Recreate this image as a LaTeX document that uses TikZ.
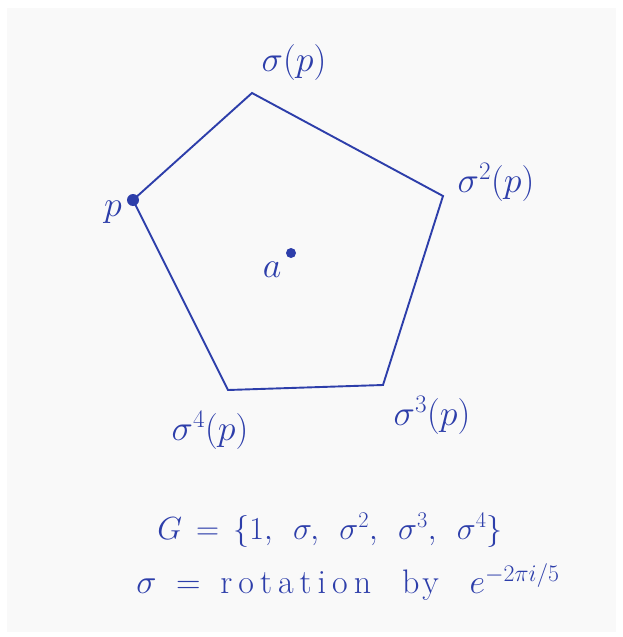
\RequirePackage{fix-cm}
\documentclass[tikz,border=0pt]{standalone}
\usepackage{amsmath}
\definecolor{ink}{RGB}{45,62,170}
\definecolor{paper}{RGB}{249,249,249}
\newcommand{\spacedword}[1]{\text{#1}}
\tikzset{
  edge/.style={ink, line width=1.9pt, line cap=round},
  vlabel/.style={ink, font=\fontsize{36}{40}\selectfont, inner sep=0pt},
  caption/.style={ink, font=\fontsize{32}{36}\selectfont, inner sep=0pt},
  dotmark/.style={circle, fill=ink, inner sep=0pt, minimum size=12pt}
}
\begin{document}
\begin{tikzpicture}[x=1pt,y=-1pt]
\useasboundingbox (0,0) rectangle (622,637);
\fill[white] (0,0) rectangle (622,637);
\fill[paper] (7,8) rectangle (616,632);
% vertices
\coordinate (v0) at (133,200);
\coordinate (v1) at (252,93);
\coordinate (v2) at (443,196);
\coordinate (v3) at (383,385);
\coordinate (v4) at (228,390);
\draw[edge] (v0) -- (v1) -- (v2) -- (v3) -- (v4) -- cycle;
\node[dotmark] (pd) at (v0) {};
\node[dotmark, minimum size=10pt] (ad) at (291,253) {};
% labels
\node[vlabel] (l0) at (113,212) {$p$};
\node[vlabel] (la) at (272,270) {$a$};
\node[vlabel] (l1) at (294,62) {$\sigma(p)$};
\node[vlabel] (l2) at (496,182) {$\sigma^2(p)$};
\node[vlabel] (l3) at (432,415) {$\sigma^3(p)$};
\node[vlabel] (l4) at (210,430) {$\sigma^4(p)$};
% captions
\node[caption] (g) at (330,530) {$G\,=\,\{1,\ \,\sigma,\ \,\sigma^2,\ \,\sigma^3,\ \,\sigma^4\}$};
\node[caption, font=\fontsize{34}{38}\selectfont] (r) at (348,582) {$\sigma\ =\ \text{r\kern6pt o\kern6pt t\kern6pt a\kern6pt t\kern6pt i\kern6pt o\kern6pt n}\ \ \ \text{b\kern3pt y}\ \ \ e^{-2\pi i/5}$};
\end{tikzpicture}
\end{document}
